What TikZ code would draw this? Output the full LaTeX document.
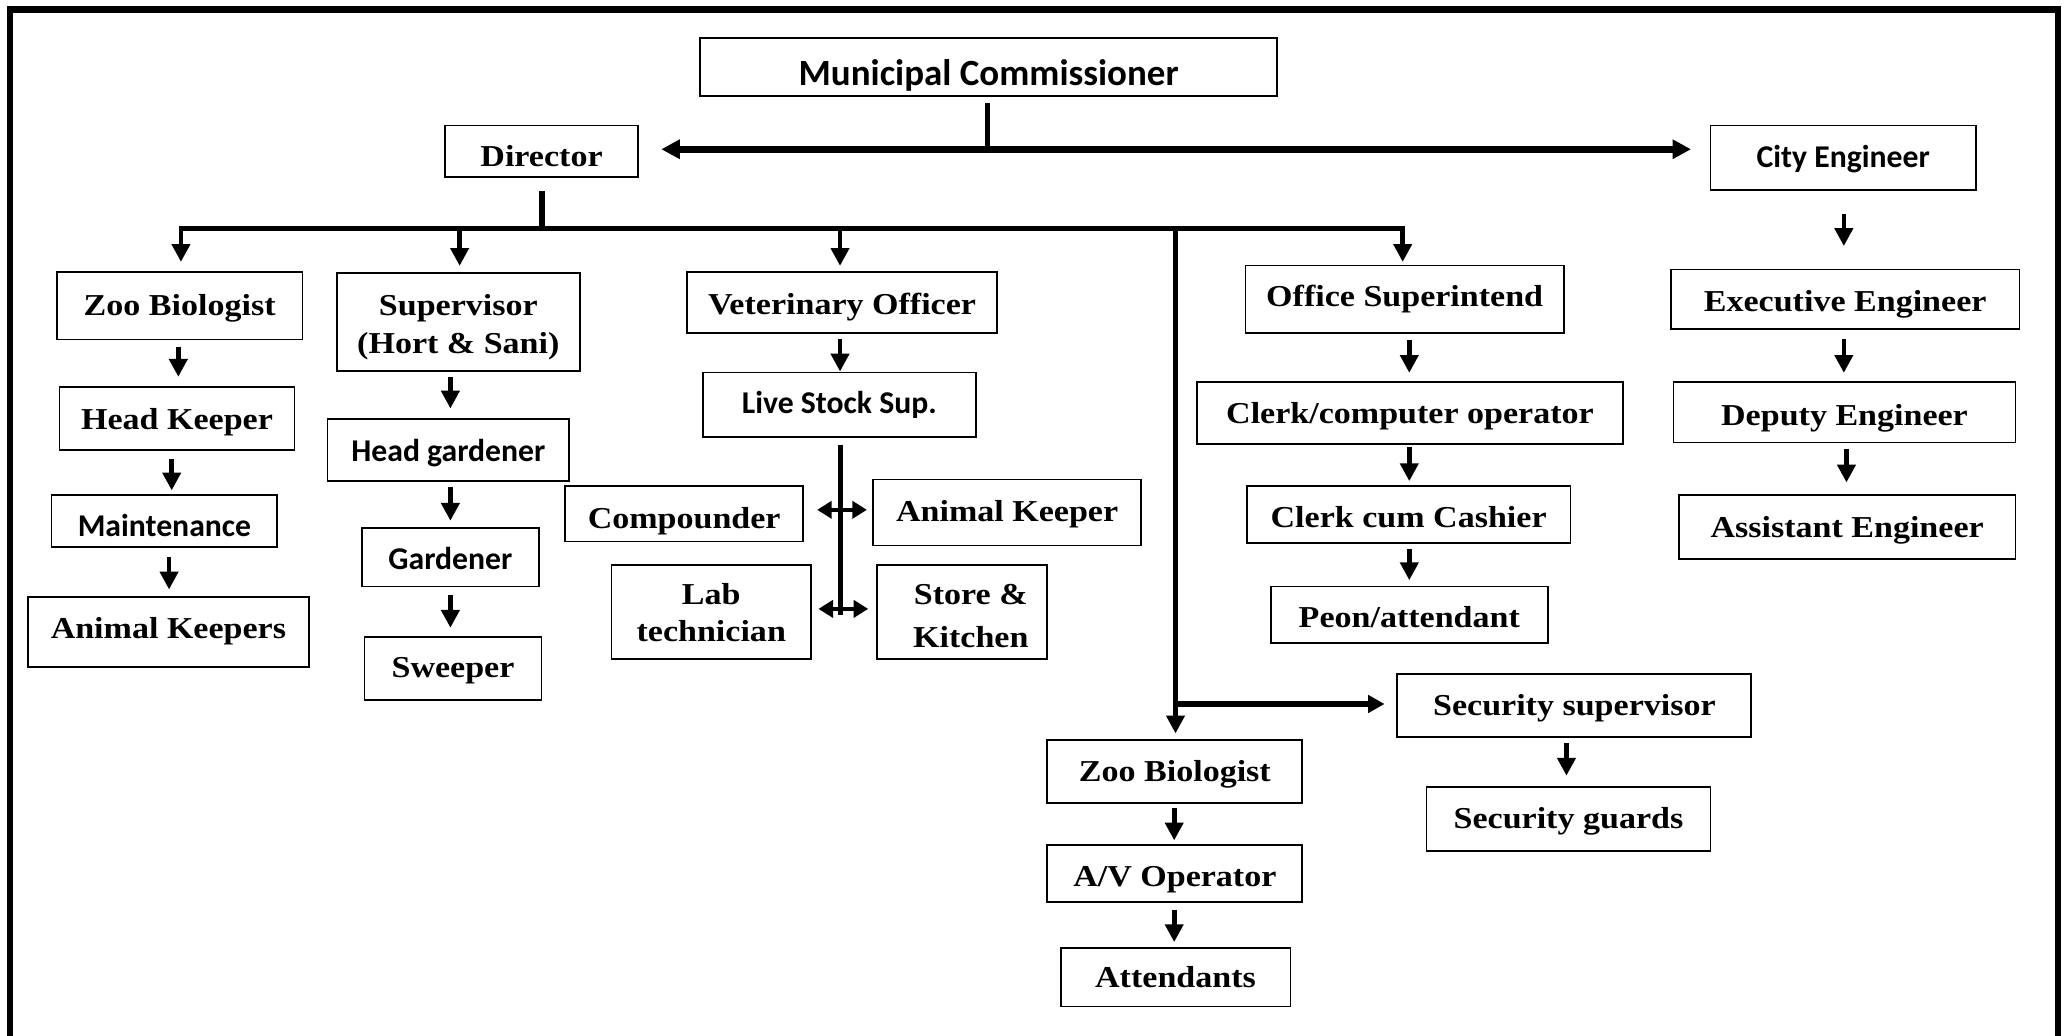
\documentclass[tikz,border=0pt]{standalone}
\usepackage{fontspec}
\setmainfont{Liberation Serif}[FakeStretch=1.12]
\newfontfamily\sansfam{Carlito}
\usetikzlibrary{arrows.meta}
\newcommand\serf{\fontsize{23}{30}\selectfont\bfseries}
\newcommand\sanf{\sansfam\fontsize{24}{29}\selectfont\bfseries}
\tikzset{
  bl/.style={text height=#1, text depth=0pt},
  box/.style={draw, line width=1.4pt, inner sep=0pt, font=\serf, bl=17pt},
  sbox/.style={box, font=\sanf},
  twol/.style={text height=0pt, text depth=11pt},
  drop/.style={line width=3.5pt, -{Triangle[length=13.5pt,width=13.5pt]}},
  bus/.style={line width=4.3pt},
  vline/.style={line width=3.8pt},
  harr/.style={line width=5pt, -{Triangle[length=14pt,width=14pt]}},
  sarr/.style={line width=4pt, -{Triangle[length=12.5pt,width=13pt]}},
  dbl/.style={line width=2.6pt, {Triangle[length=11pt,width=13pt]}-{Triangle[length=11pt,width=13pt]}},
}
\begin{document}
\begin{tikzpicture}[x=1pt,y=-1pt]
\useasboundingbox (0,0) rectangle (1568,784);
\fill[white] (0,0) rectangle (1568,784);
% frame
\draw[line width=5pt] (7.5,790) -- (7.5,7) -- (1558,7) -- (1558,790);

% top level
\node[sbox, minimum width=437pt, minimum height=44pt, bl=27pt,
      font=\sansfam\fontsize{28}{30}\selectfont\bfseries] (mc) at (748.5,51) {Municipal Commissioner};
\node[box, bl=23.6pt, minimum width=146pt, minimum height=39pt] (dir) at (410,114.5) {Director};
\node[sbox, bl=14pt, minimum width=201pt, minimum height=49pt] (ce) at (1395.5,119.5) {City Engineer};

% column 1
\node[box, bl=14pt, minimum width=186pt, minimum height=51pt] (zb1) at (136,231.5) {Zoo Biologist};
\node[box, bl=17pt, minimum width=178pt, minimum height=48pt] (hk) at (134,317) {Head Keeper};
\node[sbox, bl=23pt, minimum width=171pt, minimum height=39pt] (mt) at (124.5,394.5) {Maintenance};
\node[box, bl=10pt, minimum width=213pt, minimum height=53pt] (aks) at (127.5,478.5) {Animal Keepers};

% column 2
\node[box, twol, minimum width=184pt, minimum height=74pt] (sv) at (347,244)
  {\begin{tabular}[t]{@{}c@{}}Supervisor\\[-1pt](Hort \& Sani)\end{tabular}};
\node[sbox, bl=18pt, minimum width=183pt, minimum height=47pt] (hg) at (339.5,340.5) {Head gardener};
\node[sbox, bl=18pt, minimum width=134pt, minimum height=44pt] (gd) at (341,422) {Gardener};
\node[box, bl=14pt, minimum width=134pt, minimum height=48pt] (sw) at (343,506) {Sweeper};

% column 3
\node[box, bl=18pt, minimum width=235pt, minimum height=46pt] (vo) at (637.5,229) {Veterinary Officer};
\node[sbox, bl=13pt, minimum width=207pt, minimum height=49pt] (ls) at (635.5,306.5) {Live Stock Sup.};
\node[box, bl=22pt, minimum width=180pt, minimum height=42pt] (cp) at (518,389) {Compounder};
\node[box, bl=13pt, minimum width=203pt, minimum height=50pt] (ak) at (762.5,388) {Animal Keeper};
\node[box, twol, minimum width=151pt, minimum height=71pt] (lt) at (538.5,463.5)
  {\begin{tabular}[t]{@{}c@{}}Lab\\[-2pt]technician\end{tabular}};
\node[box, twol, minimum width=129pt, minimum height=71pt] (sk) at (728.5,463.5)
  {\begin{tabular}[t]{@{\hspace*{13pt}}c@{}}Store \&\\[2.5pt]Kitchen\end{tabular}};

% column 4
\node[box, bl=11pt, minimum width=241pt, minimum height=51pt] (os) at (1063.5,226.5) {Office Superintend};
\node[box, bl=16pt, minimum width=323pt, minimum height=47pt] (cc) at (1067.5,312.5) {Clerk/computer operator};
\node[box, bl=19pt, minimum width=245pt, minimum height=43pt] (ca) at (1066.5,389.5) {Clerk cum Cashier};
\node[box, bl=19pt, minimum width=210pt, minimum height=43pt] (pe) at (1067,465.5) {Peon/attendant};

% engineers
\node[box, bl=19pt, minimum width=264pt, minimum height=45pt] (ee) at (1397,226.5) {Executive Engineer};
\node[box, bl=20pt, minimum width=259pt, minimum height=46pt] (de) at (1396.5,312) {Deputy Engineer};
\node[box, bl=16pt, minimum width=255pt, minimum height=48pt] (ae) at (1398.5,399) {Assistant Engineer};

% lower branch
\node[box, bl=16pt, minimum width=193pt, minimum height=48pt] (zb2) at (889.5,584) {Zoo Biologist};
\node[box, bl=20pt, minimum width=193pt, minimum height=43pt] (av) at (889.5,661.5) {A/V Operator};
\node[box, bl=16pt, minimum width=174pt, minimum height=44pt] (at) at (890,740) {Attendants};
\node[box, bl=15pt, minimum width=268pt, minimum height=48pt] (ss) at (1192,534) {Security supervisor};
\node[box, bl=14pt, minimum width=215pt, minimum height=48pt] (sg) at (1187.5,620) {Security guards};

% MC connectors
\coordinate (mcj) at (747.5,113);
\draw[line width=4pt, shorten <=4pt] (mcj |- mc.south) -- (mcj);
\draw[harr, shorten >=17pt] (mcj) -- (mcj -| dir.east);
\draw[harr, shorten >=14pt] (mcj) -- (mcj -| ce.west);

% director bus
\coordinate (b1) at (137,173);
\coordinate (b2) at (348,173);
\coordinate (b3) at (636,173);
\coordinate (b5) at (890,173);
\coordinate (b4) at (1062,173);
\draw[line width=4.5pt, shorten <=10pt] (dir.south) -- (dir.south |- b1);
\draw[bus] ([xshift=-1.75pt]b1) -- ([xshift=1.75pt]b4);
\draw[drop, shorten >=7pt] (b1) -- (b1 |- zb1.north);
\draw[drop, shorten >=5pt] (b2) -- (b2 |- sv.north);
\draw[drop, shorten >=4pt] (b3) -- (b3 |- vo.north);
\draw[drop, shorten >=2pt] (b4) -- (b4 |- os.north);
\draw[line width=4.5pt, -{Triangle[length=13.5pt,width=13.5pt]}, shorten >=4pt] (b5) -- (b5 |- zb2.north);
\coordinate (sj) at (890,533);
\draw[sarr, shorten >=9pt] (sj) -- (sj -| ss.west);

% column 1 links
\draw[drop, shorten <=5pt, shorten >=7pt] (zb1.south -| 135,0) -- (hk.north -| 135,0);
\draw[drop, shorten <=6pt, shorten >=3pt] (hk.south -| 130,0) -- (mt.north -| 130,0);
\draw[drop, shorten <=7pt, shorten >=5pt] (mt.south -| 128,0) -- (aks.north -| 128,0);

% column 2 links
\draw[drop, shorten <=4pt, shorten >=7pt] (sv.south -| 341,0) -- (hg.north -| 341,0);
\draw[drop, shorten <=4pt, shorten >=5pt] (hg.south -| 341,0) -- (gd.north);
\draw[drop, shorten <=6pt, shorten >=6pt] (gd.south) -- (gd.south |- sw.north);

% column 3 links
\draw[drop, shorten <=4pt, shorten >=0pt] (vo.south -| 636,0) -- (ls.north -| 636,0);
\coordinate (lsend) at (636,466);
\draw[vline, shorten <=5pt] (ls.south -| lsend) -- (lsend);
\draw[dbl, shorten <=10pt, shorten >=4pt] (cp.east |- 0,386) -- (ak.west |- 0,386);
\draw[dbl, shorten <=5pt, shorten >=6pt] (lt.east |- 0,461) -- (sk.west |- 0,461);

% column 4 links
\draw[drop, shorten <=5pt, shorten >=6pt] (os.south -| 1067,0) -- (cc.north -| 1067,0);
\draw[drop, shorten <=2pt, shorten >=3pt] (cc.south -| 1067,0) -- (ca.north -| 1067,0);
\draw[drop, shorten <=4pt, shorten >=4pt] (ca.south -| 1067,0) -- (pe.north -| 1067,0);

% engineers links
\draw[drop, shorten <=17pt, shorten >=17pt] (ce.south -| 1396,0) -- (ee.north -| 1396,0);
\draw[drop, shorten <=7pt, shorten >=6pt] (ee.south -| 1396,0) -- (de.north -| 1396,0);
\draw[drop, shorten <=4pt, shorten >=9pt] (de.south -| 1398,0) -- (ae.north -| 1398,0);

% lower links
\draw[drop, shorten <=4pt, shorten >=8pt] (ss.south -| 1186,0) -- (sg.north -| 1186,0);
\draw[drop, shorten <=3pt, shorten >=3pt] (zb2.south -| 889,0) -- (av.north -| 889,0);
\draw[drop, shorten <=5pt, shorten >=4pt] (av.south -| 889,0) -- (at.north -| 889,0);
\end{tikzpicture}
\end{document}
